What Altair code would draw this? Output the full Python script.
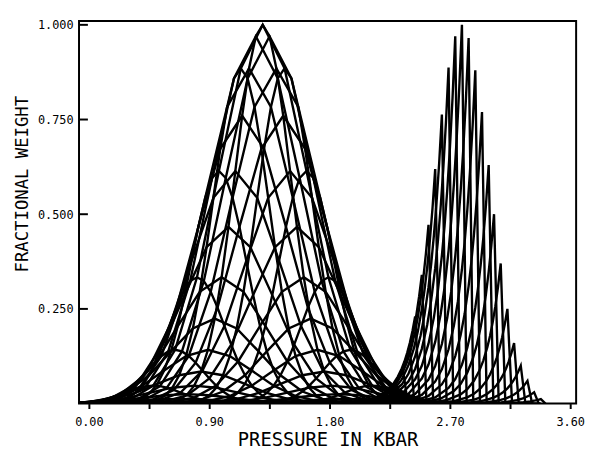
import altair as alt
import pandas as pd

# ---------------- data ----------------
# Left peak: oblique wire-mesh made of two families of lines
LEFT_CENTER = 1.30          # kbar, apex of left peak
LEFT_STEP_U = 0.0512        # kbar shift from one line of the dense family to the next
LEFT_STEP_V = 0.1638        # kbar shift from one line of the sparse family to the next
# weight of line number n of the dense family
LEFT_WEIGHT_U = [1.0, 0.970, 0.885, 0.760, 0.614, 0.4665, 0.3335, 0.2244, 0.142,
                 0.0846, 0.0474, 0.0250, 0.0124, 0.0058, 0.0025, 0.0010]
# weight of line number n of the sparse family
LEFT_WEIGHT_V = [1.0, 0.885, 0.614, 0.3335, 0.142, 0.0474, 0.0124, 0.0025, 0.0004]

# Right peak: saw-tooth family, tooth tip positions and heights
RIGHT_TOOTH_X = [2.30, 2.35, 2.40, 2.44, 2.49, 2.54, 2.59, 2.64, 2.69, 2.74, 2.79,
                 2.84, 2.89, 2.94, 2.99, 3.03, 3.08, 3.13, 3.18, 3.23, 3.28, 3.33, 3.38]
RIGHT_TOOTH_H = [0.05, 0.088, 0.147, 0.23, 0.34, 0.472, 0.619, 0.763, 0.887, 0.970, 1.0,
                 0.965, 0.88, 0.77, 0.63, 0.50, 0.37, 0.25, 0.16, 0.10, 0.06, 0.03, 0.012]
TOOTH_OFFSET = [0.0, 0.02, 0.04, 0.06, 0.08, 0.10, 0.13, 0.16, 0.20, 0.25, 0.30, 0.40, 0.50]
TOOTH_PROFILE = [1.0, 0.834, 0.695, 0.580, 0.483, 0.403, 0.307, 0.234, 0.163, 0.103,
                 0.066, 0.026, 0.011]
TOOTH_DROP = 0.035

X_TICKS = [0.0, 0.45, 0.9, 1.35, 1.8, 2.25, 2.7, 3.15, 3.6]
Y_TICKS = [0.25, 0.5, 0.75, 1.0]

# ---------------- build table ----------------
rows = []
NU = len(LEFT_WEIGHT_U) - 1
NV = len(LEFT_WEIGHT_V) - 1
iu = list(range(-NU, NU + 1))
jv = list(range(-NV, NV + 1))


def node(i, j):
    return (LEFT_CENTER + i * LEFT_STEP_U - j * LEFT_STEP_V,
            LEFT_WEIGHT_U[abs(i)] * LEFT_WEIGHT_V[abs(j)])


for i in iu:             # dense family: one polyline per i, running over j
    for seq, j in enumerate(jv):
        x, y = node(i, j)
        rows.append({"curve": f"U{i}", "seq": seq, "x": x, "y": y})
for j in jv:             # sparse family: one polyline per j, running over i
    for seq, i in enumerate(iu):
        x, y = node(i, j)
        rows.append({"curve": f"V{j}", "seq": seq, "x": x, "y": y})

for t, (xp, hp) in enumerate(zip(RIGHT_TOOTH_X, RIGHT_TOOTH_H)):
    pts = [(xp - off, hp * p) for off, p in zip(TOOTH_OFFSET, TOOTH_PROFILE)][::-1]
    pts.append((xp + TOOTH_DROP, 0.0))
    for seq, (x, y) in enumerate(pts):
        rows.append({"curve": f"R{t}", "seq": seq, "x": x, "y": y})

df = pd.DataFrame(rows)
ticks_df = pd.DataFrame({"y": Y_TICKS})

FONT = "DejaVu Sans Mono"
xscale = alt.Scale(domain=[-0.0738, 3.644], nice=False, zero=False)
yscale = alt.Scale(domain=[0, 1.0104], nice=False, zero=False)

lines = alt.Chart(df).mark_line(color="black", strokeWidth=2.4, clip=True).encode(
    x=alt.X("x:Q", scale=xscale,
            axis=alt.Axis(values=X_TICKS, title="PRESSURE IN KBAR", grid=False, domain=False,
                          tickColor="black", tickWidth=2, tickSize=5,
                          labelExpr="abs(datum.value/0.9 - round(datum.value/0.9)) < 0.01 ? format(datum.value, '.2f') : ''",
                          labelFont=FONT, labelFontSize=12, labelColor="black", labelPadding=8,
                          titleFont=FONT, titleFontSize=19, titleFontWeight="normal",
                          titleColor="black", titlePadding=3)),
    y=alt.Y("y:Q", scale=yscale,
            axis=alt.Axis(values=Y_TICKS, title="FRACTIONAL WEIGHT", grid=False, domain=False,
                          ticks=False, format=".3f", labelFont=FONT, labelFontSize=12,
                          labelColor="black", labelPadding=6,
                          titleFont=FONT, titleFontSize=17.5, titleFontWeight="normal",
                          titleColor="black", titleX=-57, titleY=165,
                          titleBaseline="middle", titleAngle=270)),
    detail="curve:N",
    order="seq:Q",
)

inner_ticks = alt.Chart(ticks_df).mark_rule(color="black", strokeWidth=2).encode(
    x=alt.value(0), x2=alt.value(9), y=alt.Y("y:Q", scale=yscale)
)

chart = alt.layer(lines, inner_ticks).properties(
    width=504, height=388,
    autosize="none",
    padding={"left": 72, "top": 10, "right": 9, "bottom": 46},
).configure_view(stroke="black", strokeWidth=2)

chart.save("out.html", embed_options={"renderer": "svg", "actions": False})
